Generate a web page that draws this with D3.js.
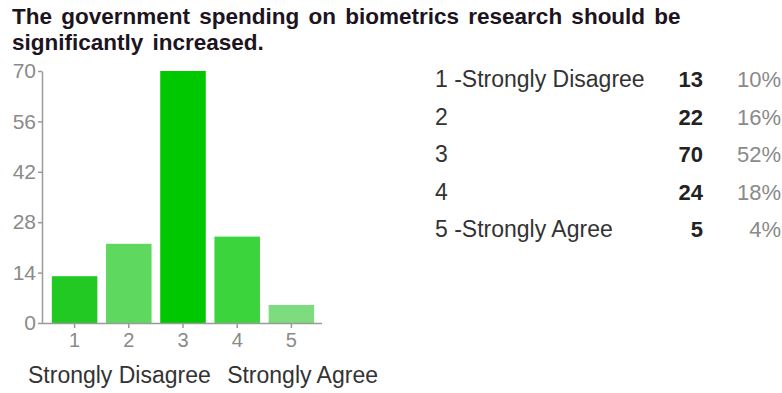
<!DOCTYPE html>
<html>
<head>
<meta charset="utf-8">
<script src="https://cdn.jsdelivr.net/npm/d3@7"></script>
<style>
  body { margin: 0; background: #fff; }
  text { font-family: Arial, "Liberation Sans", sans-serif; }
</style>
</head>
<body>
<svg id="chart" width="782" height="393"></svg>
<script>
// data
var categories = ["1", "2", "3", "4", "5"];
var labels = ["1 -Strongly Disagree", "2", "3", "4", "5 -Strongly Agree"];
var counts = [13, 22, 70, 24, 5];
var percents = ["10%", "16%", "52%", "18%", "4%"];
var yTicks = [0, 14, 28, 42, 56, 70];
var barColors = ["#22c922", "#5ed85e", "#00c800", "#3cd43c", "#7ddc7d"];
var titleLines = ["The government spending on biometrics research should be", "significantly increased."];

var svg = d3.select("#chart");

// title
svg.selectAll(".title")
    .data(titleLines)
    .enter().append("text")
    .attr("class", "title")
    .attr("x", 12)
    .attr("y", function(d, i) { return 24 + i * 26; })
    .attr("font-size", 22.5)
    .attr("font-weight", "bold")
    .attr("word-spacing", 3)
    .attr("fill", "#1c1420")
    .text(function(d) { return d; });

// scales
var x = d3.scaleBand()
    .domain(categories)
    .range([47.5, 318.5])
    .paddingInner(0.16)
    .paddingOuter(0.08);

var y = d3.scaleLinear()
    .domain([0, 70])
    .range([323, 71]);

// bars
svg.selectAll(".bar")
    .data(counts)
    .enter().append("rect")
    .attr("class", "bar")
    .attr("x", function(d, i) { return x(categories[i]); })
    .attr("y", function(d) { return y(d); })
    .attr("width", x.bandwidth())
    .attr("height", function(d) { return y(0) - y(d); })
    .attr("fill", function(d, i) { return barColors[i]; });

// y axis
var yAxis = svg.append("g")
    .attr("transform", "translate(42,0)")
    .call(d3.axisLeft(y).tickValues(yTicks).tickSize(4).tickPadding(2).tickSizeOuter(0));
yAxis.selectAll("text").attr("font-size", 21).attr("fill", "#8a8a8a").attr("font-family", "Arial, 'Liberation Sans', sans-serif");
yAxis.selectAll("line, path").attr("stroke", "#9a9a9a").attr("stroke-width", 1.5);

// x axis
var xAxis = svg.append("g")
    .attr("transform", "translate(0,323)")
    .call(d3.axisBottom(x).tickSize(5).tickPadding(5).tickSizeOuter(0));
xAxis.select("path").attr("d", "M42,0.5H322");
xAxis.selectAll("text").attr("font-size", 20).attr("fill", "#8a8a8a").attr("font-family", "Arial, 'Liberation Sans', sans-serif");
xAxis.selectAll("line, path").attr("stroke", "#9a9a9a").attr("stroke-width", 1.5);

// end labels under the axis
svg.append("text")
    .attr("x", 28).attr("y", 383)
    .attr("font-size", 23).attr("fill", "#333")
    .text("Strongly Disagree");
svg.append("text")
    .attr("x", 378).attr("y", 383)
    .attr("text-anchor", "end")
    .attr("font-size", 23).attr("fill", "#333")
    .text("Strongly Agree");

// summary table on the right
var row = d3.scaleLinear().domain([0, 4]).range([87, 237]);

var rows = svg.selectAll(".row")
    .data(labels)
    .enter().append("g")
    .attr("class", "row")
    .attr("transform", function(d, i) { return "translate(0," + row(i) + ")"; });

rows.append("text")
    .attr("x", 435)
    .attr("font-size", 23)
    .attr("fill", "#333")
    .text(function(d) { return d; });

rows.append("text")
    .attr("x", 703)
    .attr("text-anchor", "end")
    .attr("font-size", 22)
    .attr("font-weight", "bold")
    .attr("fill", "#222")
    .text(function(d, i) { return counts[i]; });

rows.append("text")
    .attr("x", 781)
    .attr("text-anchor", "end")
    .attr("font-size", 22)
    .attr("fill", "#8a8a8a")
    .text(function(d, i) { return percents[i]; });
</script>
</body>
</html>
